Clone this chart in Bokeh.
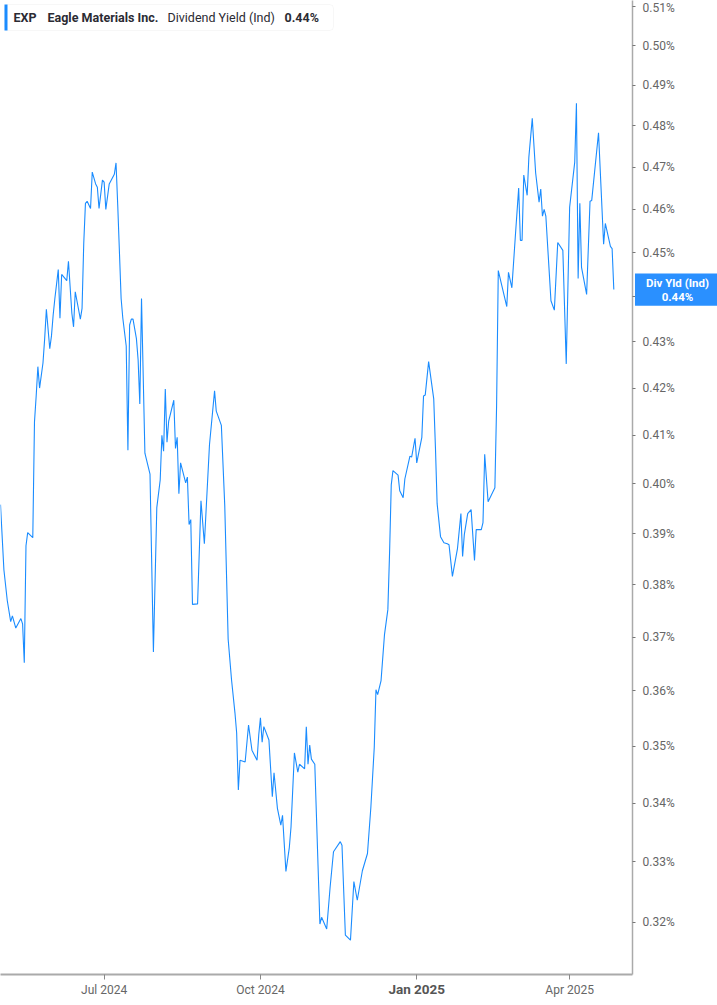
import pandas as pd
from bokeh.plotting import figure
from bokeh.models import (ColumnDataSource, Range1d, FixedTicker, PrintfTickFormatter,
                          DatetimeTickFormatter, DatetimeAxis, Label, BoxAnnotation)
from bokeh.embed import file_html
from bokeh.resources import INLINE

# ---------------- data ----------------
ticker_symbol = "EXP"
company = "Eagle Materials Inc."
metric = "Dividend Yield (Ind)"
badge_title = "Div Yld (Ind)"

dates = [
    "2024-05-01", "2024-05-03", "2024-05-05", "2024-05-07", "2024-05-08", "2024-05-10", "2024-05-13", "2024-05-14", "2024-05-15", "2024-05-16",
    "2024-05-17", "2024-05-20", "2024-05-21", "2024-05-22", "2024-05-23", "2024-05-24", "2024-05-26", "2024-05-27", "2024-05-28", "2024-05-30",
    "2024-05-31", "2024-06-01", "2024-06-02", "2024-06-04", "2024-06-05", "2024-06-06", "2024-06-09", "2024-06-10", "2024-06-12", "2024-06-13",
    "2024-06-14", "2024-06-17", "2024-06-18", "2024-06-19", "2024-06-20", "2024-06-21", "2024-06-23", "2024-06-24", "2024-06-26", "2024-06-27",
    "2024-06-28", "2024-06-30", "2024-07-01", "2024-07-02", "2024-07-04", "2024-07-07", "2024-07-08", "2024-07-09", "2024-07-11", "2024-07-12",
    "2024-07-14", "2024-07-15", "2024-07-16", "2024-07-17", "2024-07-18", "2024-07-20", "2024-07-21", "2024-07-22", "2024-07-23", "2024-07-25",
    "2024-07-28", "2024-07-30", "2024-08-01", "2024-08-03", "2024-08-04", "2024-08-05", "2024-08-06", "2024-08-07", "2024-08-08", "2024-08-11",
    "2024-08-12", "2024-08-13", "2024-08-14", "2024-08-15", "2024-08-18", "2024-08-19", "2024-08-20", "2024-08-21", "2024-08-22", "2024-08-25",
    "2024-08-27", "2024-08-29", "2024-09-01", "2024-09-04", "2024-09-05", "2024-09-08", "2024-09-10", "2024-09-12", "2024-09-14", "2024-09-16",
    "2024-09-17", "2024-09-18", "2024-09-19", "2024-09-22", "2024-09-24", "2024-09-26", "2024-09-29", "2024-09-30", "2024-10-01", "2024-10-02",
    "2024-10-03", "2024-10-06", "2024-10-08", "2024-10-09", "2024-10-11", "2024-10-13", "2024-10-14", "2024-10-16", "2024-10-18", "2024-10-19",
    "2024-10-21", "2024-10-23", "2024-10-24", "2024-10-27", "2024-10-28", "2024-10-29", "2024-10-30", "2024-10-31", "2024-11-02", "2024-11-05",
    "2024-11-06", "2024-11-09", "2024-11-11", "2024-11-13", "2024-11-17", "2024-11-18", "2024-11-20", "2024-11-23", "2024-11-25", "2024-11-27",
    "2024-11-30", "2024-12-03", "2024-12-05", "2024-12-07", "2024-12-08", "2024-12-09", "2024-12-11", "2024-12-13", "2024-12-15", "2024-12-16",
    "2024-12-17", "2024-12-18", "2024-12-21", "2024-12-22", "2024-12-24", "2024-12-25", "2024-12-28", "2024-12-29", "2024-12-31", "2025-01-01",
    "2025-01-04", "2025-01-05", "2025-01-06", "2025-01-08", "2025-01-11", "2025-01-12", "2025-01-13", "2025-01-15", "2025-01-17", "2025-01-19",
    "2025-01-20", "2025-01-22", "2025-01-25", "2025-01-27", "2025-01-28", "2025-01-29", "2025-01-31", "2025-02-02", "2025-02-04", "2025-02-05",
    "2025-02-08", "2025-02-09", "2025-02-10", "2025-02-12", "2025-02-16", "2025-02-17", "2025-02-18", "2025-02-23", "2025-02-24", "2025-02-26",
    "2025-02-28", "2025-03-02", "2025-03-03", "2025-03-04", "2025-03-05", "2025-03-07", "2025-03-08", "2025-03-10", "2025-03-12", "2025-03-14",
    "2025-03-15", "2025-03-16", "2025-03-17", "2025-03-18", "2025-03-21", "2025-03-23", "2025-03-25", "2025-03-28", "2025-03-30", "2025-04-01",
    "2025-04-04", "2025-04-05", "2025-04-06", "2025-04-07", "2025-04-08", "2025-04-11", "2025-04-13", "2025-04-14", "2025-04-18", "2025-04-21",
    "2025-04-22", "2025-04-25", "2025-04-26", "2025-04-27",
]

div_yield_pct = [
    0.3958, 0.3829, 0.3769, 0.3729, 0.3740, 0.3717, 0.3735, 0.3725, 0.3652, 0.3876,
    0.3902, 0.3892, 0.4128, 0.4183, 0.4246, 0.4200, 0.4254, 0.4307, 0.4372, 0.4285,
    0.4313, 0.4359, 0.4396, 0.4461, 0.4352, 0.4450, 0.4436, 0.4480, 0.4363, 0.4333,
    0.4411, 0.4350, 0.4374, 0.4521, 0.4614, 0.4619, 0.4602, 0.4688, 0.4660, 0.4652,
    0.4602, 0.4669, 0.4664, 0.4600, 0.4660, 0.4683, 0.4710, 0.4610, 0.4396, 0.4352,
    0.4291, 0.4069, 0.4337, 0.4350, 0.4350, 0.4307, 0.4261, 0.4166, 0.4396, 0.4063,
    0.4020, 0.3672, 0.3952, 0.4008, 0.4100, 0.4067, 0.4198, 0.4086, 0.4130, 0.4174,
    0.4073, 0.4096, 0.3980, 0.4043, 0.4002, 0.4014, 0.3918, 0.3928, 0.3762, 0.3763,
    0.3966, 0.3880, 0.4080, 0.4194, 0.4151, 0.4121, 0.3956, 0.3696, 0.3620, 0.3560,
    0.3524, 0.3423, 0.3475, 0.3472, 0.3538, 0.3493, 0.3475, 0.3520, 0.3551, 0.3507,
    0.3535, 0.3511, 0.3411, 0.3453, 0.3391, 0.3362, 0.3379, 0.3284, 0.3324, 0.3359,
    0.3488, 0.3454, 0.3468, 0.3460, 0.3535, 0.3468, 0.3502, 0.3477, 0.3468, 0.3197,
    0.3208, 0.3189, 0.3257, 0.3317, 0.3334, 0.3328, 0.3179, 0.3171, 0.3267, 0.3236,
    0.3285, 0.3314, 0.3393, 0.3498, 0.3602, 0.3593, 0.3619, 0.3704, 0.3752, 0.3861,
    0.3998, 0.4027, 0.4018, 0.3986, 0.3972, 0.4010, 0.4057, 0.4055, 0.4094, 0.4043,
    0.4096, 0.4183, 0.4185, 0.4257, 0.4177, 0.4076, 0.3960, 0.3894, 0.3882, 0.3880,
    0.3878, 0.3816, 0.3871, 0.3940, 0.3855, 0.3898, 0.3940, 0.3948, 0.3847, 0.3908,
    0.3908, 0.3922, 0.4061, 0.3964, 0.3992, 0.4162, 0.4459, 0.4378, 0.4455, 0.4420,
    0.4535, 0.4650, 0.4528, 0.4528, 0.4681, 0.4633, 0.4724, 0.4818, 0.4686, 0.4617,
    0.4648, 0.4584, 0.4600, 0.4584, 0.4391, 0.4370, 0.4523, 0.4505, 0.4252, 0.4605,
    0.4712, 0.4855, 0.4441, 0.4614, 0.4466, 0.4405, 0.4619, 0.4621, 0.4783, 0.4519,
    0.4567, 0.4514, 0.4509, 0.4416,
]

y_ticks = [0.32, 0.33, 0.34, 0.35, 0.36, 0.37, 0.38, 0.39, 0.40, 0.41,
           0.42, 0.43, 0.44, 0.45, 0.46, 0.47, 0.48, 0.49, 0.50, 0.51]
x_tick_dates = ["2024-07-01", "2024-10-01", "2025-01-01", "2025-04-01"]
x_tick_labels = ["Jul 2024", "Oct 2024", "Jan 2025", "Apr 2025"]
highlight_tick = "Jan 2025"
x_start, x_end = "2024-05-01", "2025-05-08"
y_start, y_end = 0.3116, 0.5116

# ---------------- figure ----------------
LINE_BLUE = "#1a8cff"
BADGE_BLUE = "#2a90ff"
AXIS_GREY = "#aaaaaa"
LABEL_GREY = "#666666"
FONT = "Roboto"

FW, FH = 632, 974
RIGHT, BOTTOM = 83, 31


def ms(d):
    return pd.Timestamp(d).value / 1e6


src = ColumnDataSource(dict(date=pd.to_datetime(dates), yld=div_yield_pct))

p = figure(frame_width=FW, frame_height=FH,
           x_axis_type="datetime", y_axis_type="log", y_axis_location="right",
           x_range=Range1d(ms(x_start), ms(x_end)), y_range=Range1d(y_start, y_end),
           output_backend="svg", toolbar_location=None,
           min_border_left=0, min_border_top=0,
           min_border_right=RIGHT, min_border_bottom=BOTTOM)
p.outline_line_color = None
p.xgrid.visible = False
p.ygrid.visible = False
p.background_fill_color = "white"
p.border_fill_color = "white"

p.line("date", "yld", source=src, line_color=LINE_BLUE, line_width=1.1)

# x axis (regular labels)
xa = p.xaxis[0]
tick_ms = [ms(d) for d in x_tick_dates]
xa.ticker = FixedTicker(ticks=tick_ms, minor_ticks=[])
xa.formatter = DatetimeTickFormatter(days="%b %Y", months="%b %Y", years="%b %Y")
xa.major_label_overrides = {t: ("" if lab == highlight_tick else lab)
                            for t, lab in zip(tick_ms, x_tick_labels)}
xa.axis_line_color = AXIS_GREY
xa.axis_line_width = 2
xa.major_tick_out = 5
xa.major_tick_in = 0
xa.major_tick_line_color = "#888888"
xa.minor_tick_line_color = None
xa.major_label_standoff = 3
xa.major_label_text_font = FONT
xa.major_label_text_font_size = "12px"
xa.major_label_text_color = LABEL_GREY

# second x axis carrying only the highlighted (bold) tick label
hi_idx = x_tick_labels.index(highlight_tick)
xb = DatetimeAxis(ticker=FixedTicker(ticks=[tick_ms[hi_idx]], minor_ticks=[]),
                  formatter=DatetimeTickFormatter(days="%b %Y", months="%b %Y", years="%b %Y"),
                  major_label_overrides={tick_ms[hi_idx]: highlight_tick},
                  axis_line_color=None, major_tick_line_color=None,
                  minor_tick_line_color=None, major_tick_out=0, major_tick_in=0,
                  major_label_standoff=-19,
                  major_label_text_font=FONT, major_label_text_font_style="bold",
                  major_label_text_font_size="13.5px", major_label_text_color="#555555")
p.add_layout(xb, "below")

# y axis (right, log)
ya = p.yaxis[0]
ya.ticker = FixedTicker(ticks=y_ticks, minor_ticks=[])
ya.formatter = PrintfTickFormatter(format="%.2f%%")
ya.axis_line_color = AXIS_GREY
ya.axis_line_width = 1.5
ya.major_tick_out = 3
ya.major_tick_in = 0
ya.major_tick_line_color = "#777777"
ya.minor_tick_line_color = None
ya.major_label_standoff = 7
ya.major_label_text_font = FONT
ya.major_label_text_font_size = "12px"
ya.major_label_text_color = LABEL_GREY

# header box
p.add_layout(BoxAnnotation(left=4, right=333, top=FH - 4, bottom=FH - 30,
                           left_units="screen", right_units="screen",
                           top_units="screen", bottom_units="screen",
                           fill_color="white", fill_alpha=1.0,
                           line_color="#e4e4e4", line_width=1, border_radius=4,
                           level="overlay"))
p.add_layout(BoxAnnotation(left=4, right=7, top=FH - 4, bottom=FH - 30,
                           left_units="screen", right_units="screen",
                           top_units="screen", bottom_units="screen",
                           fill_color=LINE_BLUE, fill_alpha=1.0, line_color=None,
                           level="overlay"))
last_val = div_yield_pct[-1]
header_parts = [(ticker_symbol, 13, "bold"), (company, 47, "bold"),
                (metric, 167, "normal"), (f"{last_val:.2f}%", 284, "bold")]
for txt, hx, style in header_parts:
    p.add_layout(Label(x=hx, y=FH - 17, x_units="screen", y_units="screen",
                       text=txt, text_baseline="middle", text_font=FONT,
                       text_font_style=style, text_font_size="12.5px",
                       text_color="#2b2b33", level="overlay"))

# last value badge over the right axis (side panel so it is not clipped)
p.add_layout(Label(x=0, y=last_val, x_units="screen", y_units="data",
                   text=f"{badge_title}\n{last_val:.2f}%", text_align="center",
                   text_baseline="middle", text_font=FONT, text_font_style="bold",
                   text_font_size="11.5px", text_color="white", text_line_height=0.95,
                   background_fill_color=BADGE_BLUE, background_fill_alpha=1.0,
                   padding=dict(left=11, right=11, top=3, bottom=2)), "right")

open("out.html", "w").write(file_html(p, INLINE))
